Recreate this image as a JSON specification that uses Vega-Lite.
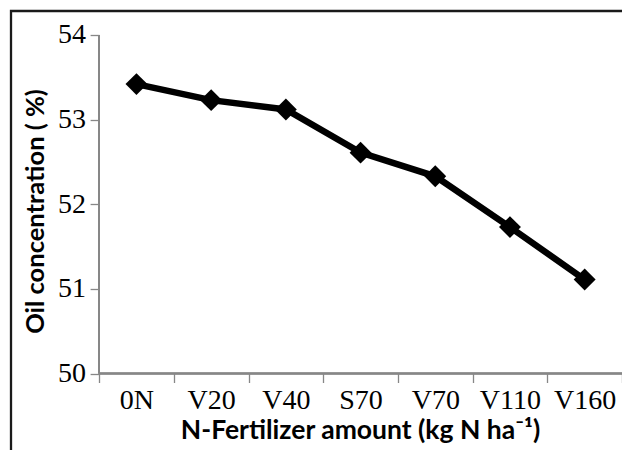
{
  "$schema": "https://vega.github.io/schema/vega-lite/v6.json",
  "width": 613,
  "height": 441,
  "autosize": {"type": "none"},
  "padding": {"left": 11, "top": 11, "right": -2, "bottom": -2},
  "background": "white",
  "config": {"view": {"stroke": "#1a1a1a", "strokeWidth": 2.3}},
  "data": {
    "values": [
      {"treatment": "0N", "oil": 53.42},
      {"treatment": "V20", "oil": 53.23},
      {"treatment": "V40", "oil": 53.12},
      {"treatment": "S70", "oil": 52.61},
      {"treatment": "V70", "oil": 52.33},
      {"treatment": "V110", "oil": 51.73},
      {"treatment": "V160", "oil": 51.11}
    ]
  },
  "encoding": {
    "x": {
      "field": "treatment",
      "type": "nominal",
      "sort": null,
      "scale": {"type": "band", "domain": ["0N", "V20", "V40", "S70", "V70", "V110", "V160"], "paddingInner": 0, "paddingOuter": 0.603, "align": 0.978},
      "axis": {
        "title": "N-Fertilizer amount (kg N ha⁻¹)",
        "offset": -78.5,
        "domain": false,
        "tickBand": "extent",
        "tickSize": 9,
        "tickColor": "#878787",
        "tickWidth": 1.3,
        "labelFont": "Liberation Serif",
        "labelFontSize": 28,
        "labelColor": "black",
        "labelAngle": 0,
        "labelPadding": 3.7,
        "titleFont": "Lato",
        "titleFontWeight": "bold",
        "titleFontSize": 26.5,
        "titleColor": "black",
        "titleX": 349,
        "titleY": 64.5,
        "titleAlign": "center",
        "titleBaseline": "alphabetic"
      }
    },
    "y": {
      "field": "oil",
      "type": "quantitative",
      "scale": {"domain": [49.0724, 54.2836], "nice": false, "zero": false},
      "axis": {
        "title": "Oil concentration ( %)",
        "offset": -88.1,
        "values": [50, 51, 52, 53, 54],
        "domain": false,
        "grid": false,
        "tickSize": 9,
        "tickColor": "#878787",
        "tickWidth": 1.3,
        "labelFont": "Liberation Serif",
        "labelFontSize": 28,
        "labelColor": "black",
        "labelPadding": 4.5,
        "titleFont": "Lato",
        "titleFontWeight": "bold",
        "titleFontSize": 25.5,
        "titleColor": "black",
        "titleX": -55.8,
        "titleY": 200,
        "titleAlign": "center",
        "titleBaseline": "alphabetic",
        "titleAngle": -90
      }
    }
  },
  "layer": [
    {
      "mark": {"type": "rule", "color": "#878787", "strokeWidth": 1.3},
      "encoding": {
        "x": {"datum": "0N", "bandPosition": 0},
        "y": {"datum": 50},
        "y2": {"datum": 54}
      }
    },
    {
      "mark": {"type": "rule", "color": "#878787", "strokeWidth": 1.3},
      "encoding": {
        "x": {"datum": "0N", "bandPosition": 0},
        "x2": {"datum": "V160", "bandPosition": 1},
        "y": {"datum": 50}
      }
    },
    {
      "mark": {"type": "line", "color": "black", "strokeWidth": 6.5},
      "encoding": {}
    },
    {
      "mark": {"type": "point", "shape": "diamond", "filled": true, "size": 480, "color": "black", "opacity": 1},
      "encoding": {}
    }
  ]
}
